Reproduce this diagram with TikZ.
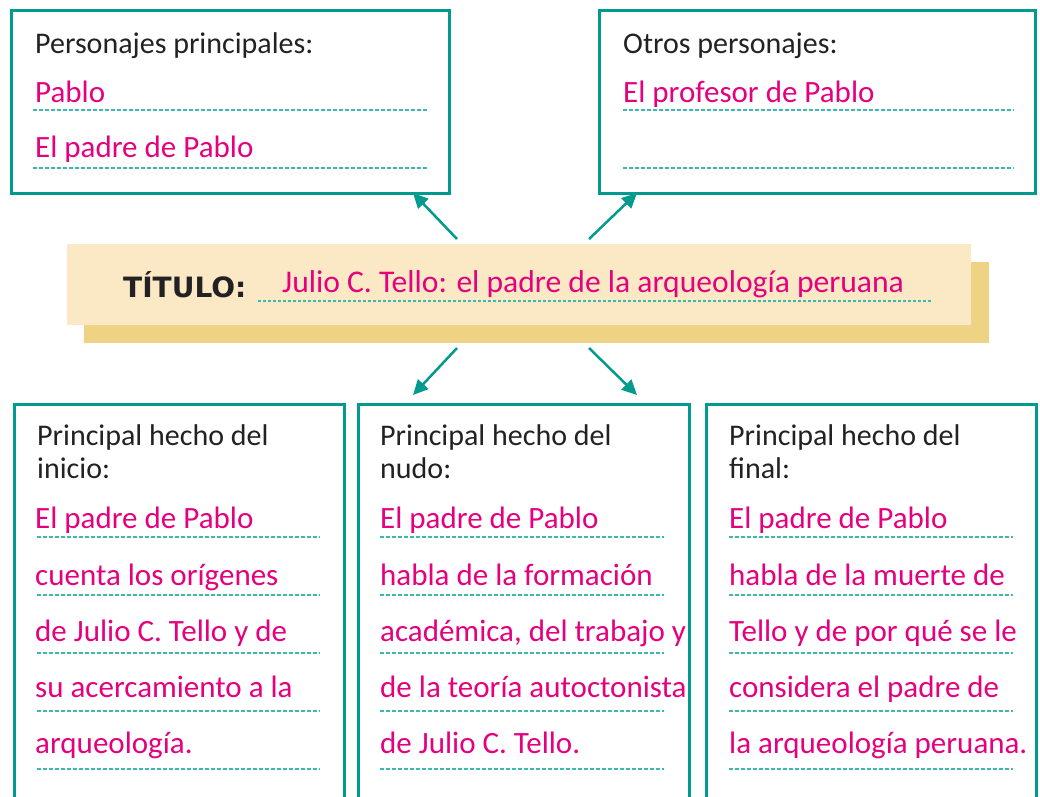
\documentclass[tikz,border=0pt]{standalone}
\usepackage{fontspec}
\setmainfont{Carlito}
\newfontfamily\titfont{DejaVu Sans}
\usetikzlibrary{arrows.meta}
\definecolor{teal1}{HTML}{009B8E}
\definecolor{teal2}{HTML}{3DB8AE}
\definecolor{pinkt}{HTML}{E5007E}
\definecolor{bandlight}{HTML}{FBE9C6}
\definecolor{bandshadow}{HTML}{EED384}
\definecolor{ink}{HTML}{222222}
\begin{document}
\begin{tikzpicture}[x=1pt,y=-1pt,
  box/.style={draw=teal1, line width=2.5pt, fill=white, inner sep=0pt, anchor=north west},
  head/.style={anchor=base west, inner sep=0pt, text=ink, font=\fontsize{30}{36}\selectfont},
  ans/.style={anchor=base west, inner sep=0pt, text=pinkt, font=\fontsize{31}{37}\selectfont},
  rulex/.style={draw=teal2, line width=1.2pt, dash pattern=on 4pt off 2pt},
  arr/.style={draw=teal1, line width=2.5pt, -{Triangle[length=15pt,width=14pt]}}
]
\useasboundingbox (0,0) rectangle (1040,796);
\fill[white] (0,0) rectangle (1040,796);

% top boxes
\node[box, minimum width=438pt, minimum height=183pt] (tl) at (10,9) {};
\node[box, minimum width=436pt, minimum height=183pt] (tr) at (598,9) {};

% bottom boxes (open at the page bottom)
\node[box, minimum width=330pt, minimum height=430pt] (b1) at (13,403) {};
\node[box, minimum width=331pt, minimum height=430pt] (b2) at (357,403) {};
\node[box, minimum width=330pt, minimum height=430pt] (b3) at (705,403) {};

% title band
\fill[bandshadow] (84,262) rectangle (989,343);
\node[fill=bandlight, anchor=north west, inner sep=0pt, minimum width=904pt, minimum height=81pt] (band) at (67,244) {};
\node[anchor=base west, inner sep=0pt, text=ink, font=\titfont\bfseries\fontsize{28}{34}\selectfont] (tt) at (123,297) {TÍTULO:};
\node[ans, font=\fontsize{31.6}{37}\selectfont] (ttl) at (282,292) {Julio C. Tello: el padre de la arqueología peruana};
\draw[draw=teal2, line width=1.2pt, dash pattern=on 3pt off 2pt] (258,301) -- (932,301);

% arrows
\coordinate (a1s) at (457,239); \coordinate (a1e) at (413,193);
\coordinate (a2s) at (589,239); \coordinate (a2e) at (637,193);
\coordinate (a3s) at (457,348); \coordinate (a3e) at (413,395);
\coordinate (a4s) at (589,348); \coordinate (a4e) at (637,395);
\draw[arr] (a1s) -- (a1e);
\draw[arr] (a2s) -- (a2e);
\draw[arr] (a3s) -- (a3e);
\draw[arr] (a4s) -- (a4e);

% top-left content
\node[head] (tlh) at (35,53) {Personajes principales:};
\node[ans] (tl1) at (35,102) {Pablo};
\node[ans] (tl2) at (35,157) {El padre de Pablo};
\foreach \y in {110,168} \draw[rulex] (33,\y) -- (427,\y);

% top-right content
\node[head] (trh) at (623,53) {Otros personajes:};
\node[ans] (tr1) at (623,102) {El profesor de Pablo};
\foreach \y in {110,168} \draw[rulex] (623,\y) -- (1014,\y);

% bottom headings
\node[head] (b1h1) at (37,445) {Principal hecho del};
\node[head] (b1h2) at (37,478) {inicio:};
\node[head] (b2h1) at (380,445) {Principal hecho del};
\node[head] (b2h2) at (380,478) {nudo:};
\node[head] (b3h1) at (729,445) {Principal hecho del};
\node[head] (b3h2) at (729,478) {final:};

% bottom rules
\foreach \y in {537,595,653,711,769} {
  \draw[rulex] (37,\y) -- (320,\y);
  \draw[rulex] (380,\y) -- (664,\y);
  \draw[rulex] (729,\y) -- (1013,\y);
}

% bottom answers
\node[ans] (b1a) at (35,528) {El padre de Pablo};
\node[ans] (b1b) at (35,585) {cuenta los orígenes};
\node[ans] (b1c) at (35,641) {de Julio C. Tello y de};
\node[ans] (b1d) at (35,697) {su acercamiento a la};
\node[ans] (b1e) at (35,753) {arqueología.};

\node[ans] (b2a) at (380,528) {El padre de Pablo};
\node[ans] (b2b) at (380,585) {habla de la formación};
\node[ans] (b2c) at (380,641) {académica, del trabajo y};
\node[ans] (b2d) at (380,697) {de la teoría autoctonista};
\node[ans] (b2e) at (380,753) {de Julio C. Tello.};

\node[ans] (b3a) at (729,528) {El padre de Pablo};
\node[ans] (b3b) at (729,585) {habla de la muerte de};
\node[ans] (b3c) at (729,641) {Tello y de por qué se le};
\node[ans] (b3d) at (729,697) {considera el padre de};
\node[ans] (b3e) at (729,753) {la arqueología peruana.};
\end{tikzpicture}
\end{document}
